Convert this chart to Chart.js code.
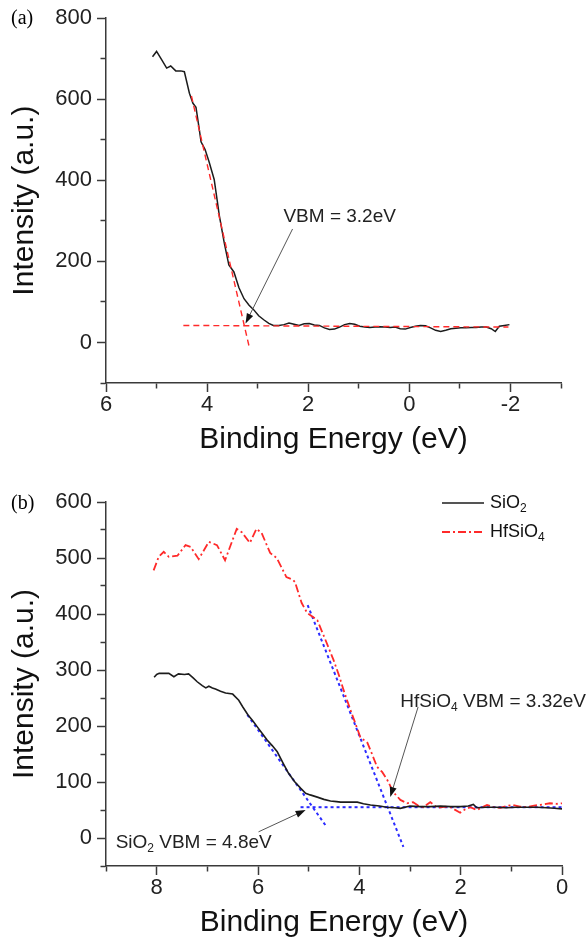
<!DOCTYPE html>
<html><head><meta charset="utf-8">
<script src="https://cdn.jsdelivr.net/npm/chart.js@4.4.1/dist/chart.umd.min.js"></script>
<style>
html,body{margin:0;padding:0;background:#fff;}
#wrap{position:relative;width:587px;height:941px;background:#fff;}
canvas{position:absolute;left:0;}
</style></head><body>
<div id="wrap">
<canvas id="ca" width="587" height="470" style="top:0"></canvas>
<canvas id="cb" width="587" height="471" style="top:470px"></canvas>
</div>
<script>
// ---------- Panel (a) data ----------
const aEnergy = [5.08,5.00,4.90,4.80,4.72,4.62,4.52,4.45,4.35,4.28,4.22,4.16,4.12,4.04,3.96,3.86,3.80,3.76,3.66,3.57,3.47,3.37,3.27,3.17,3.08,2.98,2.88,2.78,2.69,2.58,2.48,2.38,2.28,2.18,2.08,1.98,1.88,1.78,1.68,1.58,1.48,1.38,1.28,1.18,1.08,0.98,0.88,0.78,0.68,0.58,0.48,0.38,0.28,0.18,0.08,-0.02,-0.12,-0.22,-0.32,-0.42,-0.52,-0.62,-0.72,-0.82,-0.92,-1.02,-1.12,-1.22,-1.32,-1.42,-1.52,-1.62,-1.70,-1.78,-1.88,-1.98];
const aIntensity = [705,718,698,677,682,670,670,668,615,590,580,530,495,476,445,402,350,314,245,191,174,135,108,92,81,66,56,47,42,42,44,48,45,42,46,47,43,42,36,32,33,38,44,47,45,40,38,37,38,39,38,37,38,34,33,37,40,42,41,36,30,27,30,34,35,36,36,37,37,38,38,34,27,40,42,44];
const aFitSteepE = [4.31, 3.16];
const aFitSteepI = [608, -15];
const aFitBaseE = [4.47, -1.96];
const aFitBaseI = [42, 38];
const aXTickLabels = [6, 4, 2, 0, -2];
const aYTickLabels = [0, 200, 400, 600, 800];
const aAnnotText = 'VBM = 3.2eV';
const aAnnotAt = [2.49, 309];
const aArrowFrom = [2.31, 280];
const aArrowTo = [3.24, 47];

// ---------- Panel (b) data ----------
const bSiO2E = [8.05,8.00,7.95,7.86,7.76,7.66,7.57,7.45,7.37,7.28,7.20,7.10,7.03,6.97,6.90,6.84,6.74,6.64,6.50,6.38,6.30,6.20,6.10,6.01,5.92,5.82,5.72,5.62,5.50,5.40,5.28,5.16,5.06,4.97,4.83,4.70,4.57,4.45,4.37,4.18,4.04,3.92,3.78,3.60,3.46,3.30,3.19,3.00,2.80,2.60,2.40,2.20,2.00,1.85,1.75,1.68,1.50,1.30,1.10,0.90,0.70,0.50,0.30,0.15,0.00];
const bSiO2I = [287,292,294,294,294,288,293,292,293,286,279,272,268,271,268,266,262,259,257,246,234,220,209,198,187,175,165,154,133,116,101,89,80,77,73,69,66,65,64,64,64,61,59,57,55,54,53,57,56,56,57,56,56,57,60,54,55,55,54,55,55,55,54,53,52];
const bHfE = [8.06,7.96,7.86,7.76,7.59,7.43,7.33,7.17,6.97,6.81,6.65,6.42,6.32,6.16,6.03,5.93,5.76,5.63,5.44,5.31,5.27,5.14,5.03,4.83,4.67,4.51,4.40,4.31,4.20,4.10,3.98,3.84,3.75,3.65,3.55,3.45,3.33,3.19,3.06,2.94,2.84,2.74,2.60,2.46,2.30,2.20,2.01,1.90,1.81,1.68,1.48,1.35,1.22,1.10,0.97,0.83,0.69,0.55,0.43,0.24,0.10,0.00];
const bHfI = [478,502,511,502,504,523,520,498,529,523,496,552,546,527,552,545,509,500,466,461,457,420,402,389,354,318,290,264,235,210,180,170,150,127,118,104,82,68,62,64,58,55,64,54,56,55,45,52,55,50,59,55,54,57,59,56,55,58,59,62,61,62];
const bSiO2FitE = [6.21, 4.67];
const bSiO2FitI = [220, 23];
const bBaseFitE = [5.16, 0.0];
const bBaseFitI = [55, 55];
const bHfFitE = [5.02, 3.13];
const bHfFitI = [416, -16];
const bXTickLabels = [8, 6, 4, 2, 0];
const bYTickLabels = [0, 100, 200, 300, 400, 500, 600];
const bSeriesNames = [[['SiO',0],['2',1]], [['HfSiO',0],['4',1]]];
const bHfAnnot = [['HfSiO',0],['4',1],[' VBM = 3.32eV',0]];
const bHfAnnotAt = [3.19, 243];
const bHfArrowFrom = [2.84, 234];
const bHfArrowTo = [3.39, 73];
const bSiAnnot = [['SiO',0],['2',1],[' VBM = 4.8eV',0]];
const bSiAnnotAt = [8.81, -9];
const bSiArrowFrom = [5.99, 11];
const bSiArrowTo = [5.06, 50];

// ---------- styling ----------
const FF = '"Liberation Sans", Arial, Helvetica, sans-serif';
const SERIF = '"Liberation Serif", "Times New Roman", serif';
const AX = '#3a3a3a';
const BLACK = '#1c1c1c', RED = '#ff2a2a', BLUE = '#2b2bff';
Chart.defaults.font.family = FF;

const pts = (xs, ys) => xs.slice(0, Math.min(xs.length, ys.length)).map((x, i) => ({x, y: ys[i]}));

function xScale(min, max, labels, height, titlePadBottom) {
  return {
    type: 'linear', reverse: true, min, max,
    afterFit: s => { s.height = height; },
    border: {display: true, color: AX, width: 1.5},
    grid: {drawOnChartArea: false, drawTicks: true, tickLength: 9, tickColor: AX, tickWidth: 1.5,
      tickBorderDash: c => (c.tick && labels.includes(c.tick.value)) ? [] : [5, 100]},
    ticks: {stepSize: 1, autoSkip: false, padding: 0, maxRotation: 0, color: '#222',
      font: {size: 22, family: FF},
      callback: v => labels.includes(v) ? String(v) : ''},
    title: {display: true, text: 'Binding Energy (eV)', color: '#111',
      font: {size: 30, family: FF, lineHeight: 1.2}, padding: {top: 0, bottom: titlePadBottom}}
  };
}
function yScale(min, max, step, labels) {
  return {
    type: 'linear', min, max,
    afterFit: s => { s.width = 106; },
    border: {display: true, color: AX, width: 1.5},
    grid: {drawOnChartArea: false, drawTicks: true, tickLength: 9, tickColor: AX, tickWidth: 1.5,
      tickBorderDash: c => (c.tick && labels.includes(c.tick.value)) ? [] : [5, 100],
      tickBorderDashOffset: c => (c.tick && labels.includes(c.tick.value)) ? 0 : 101.5},
    ticks: {stepSize: step, autoSkip: false, padding: 5, color: '#222',
      font: {size: 22, family: FF},
      callback: v => labels.includes(v) ? String(v) : ''},
    title: {display: true, text: 'Intensity (a.u.)', color: '#111',
      font: {size: 30, family: FF, lineHeight: 1.2}, padding: {top: 7, bottom: 0}}
  };
}

function richText(ctx, parts, x, y, size) {
  let cx = x;
  ctx.textBaseline = 'middle';
  ctx.textAlign = 'left';
  for (const [t, sub] of parts) {
    ctx.font = (sub ? Math.round(size * 0.65) : size) + 'px ' + FF;
    ctx.fillText(t, cx, sub ? y + size * 0.32 : y);
    cx += ctx.measureText(t).width;
  }
}
function arrow(ctx, x1, y1, x2, y2) {
  ctx.save();
  ctx.strokeStyle = '#555'; ctx.lineWidth = 1;
  const ang = Math.atan2(y2 - y1, x2 - x1), L = 10, W = 3.5;
  ctx.beginPath(); ctx.moveTo(x1, y1);
  ctx.lineTo(x2 - (L - 2) * Math.cos(ang), y2 - (L - 2) * Math.sin(ang)); ctx.stroke();
  ctx.fillStyle = '#111'; ctx.beginPath();
  ctx.moveTo(x2, y2);
  ctx.lineTo(x2 - L * Math.cos(ang) + W * Math.sin(ang), y2 - L * Math.sin(ang) - W * Math.cos(ang));
  ctx.lineTo(x2 - L * Math.cos(ang) - W * Math.sin(ang), y2 - L * Math.sin(ang) + W * Math.cos(ang));
  ctx.closePath(); ctx.fill();
  ctx.restore();
}
const px = (ch, p) => [ch.scales.x.getPixelForValue(p[0]), ch.scales.y.getPixelForValue(p[1])];

const line = (label, data, color, width, dash) => ({
  label, data, borderColor: color, backgroundColor: color, borderWidth: width,
  borderDash: dash, pointRadius: 0, tension: 0, fill: false
});

// ---------- Chart (a) ----------
new Chart(document.getElementById('ca'), {
  type: 'line',
  data: {datasets: [
    line('fit-steep', pts(aFitSteepE, aFitSteepI), RED, 1.4, [6, 4]),
    line('fit-base', pts(aFitBaseE, aFitBaseI), RED, 1.4, [6, 4]),
    line('spectrum', pts(aEnergy, aIntensity), BLACK, 1.5, []),
  ]},
  options: {
    responsive: false, animation: false, devicePixelRatio: 1,
    layout: {padding: {left: 0, right: 26, top: 15, bottom: 0}},
    plugins: {legend: {display: false}, tooltip: {enabled: false}},
    scales: {x: xScale(-3, 6, aXTickLabels, 87, 12), y: yScale(-100, 800, 100, aYTickLabels)}
  },
  plugins: [{
    id: 'annotA',
    afterDatasetsDraw(ch) {
      const ctx = ch.ctx;
      ctx.save();
      ctx.fillStyle = '#222';
      const [tx, ty] = px(ch, aAnnotAt);
      richText(ctx, [[aAnnotText, 0]], tx, ty, 19);
      const [x1, y1] = px(ch, aArrowFrom), [x2, y2] = px(ch, aArrowTo);
      arrow(ctx, x1, y1, x2, y2);
      ctx.fillStyle = '#000';
      ctx.font = '20px ' + SERIF; ctx.textBaseline = 'alphabetic'; ctx.textAlign = 'left';
      ctx.fillText('(a)', 11, 24);
      ctx.restore();
    }
  }]
});

// ---------- Chart (b) ----------
new Chart(document.getElementById('cb'), {
  type: 'line',
  data: {datasets: [
    line('SiO₂', pts(bSiO2E, bSiO2I), BLACK, 1.6, []),
    line('HfSiO₄', pts(bHfE, bHfI), RED, 1.8, [8, 3, 2, 3]),
    line('fit-SiO2', pts(bSiO2FitE, bSiO2FitI), BLUE, 2, [3, 3]),
    line('fit-base', pts(bBaseFitE, bBaseFitI), BLUE, 2, [3, 3]),
    line('fit-HfSiO4', pts(bHfFitE, bHfFitI), BLUE, 2, [3, 3]),
  ]},
  options: {
    responsive: false, animation: false, devicePixelRatio: 1,
    layout: {padding: {left: 0, right: 25, top: 32, bottom: 0}},
    plugins: {legend: {display: false}, tooltip: {enabled: false}},
    scales: {x: xScale(0, 9, bXTickLabels, 75, 0), y: yScale(-50, 600, 50, bYTickLabels)}
  },
  plugins: [{
    id: 'annotB',
    afterDatasetsDraw(ch) {
      const ctx = ch.ctx;
      ctx.save();
      // legend
      const ds = ch.data.datasets;
      [0, 1].forEach(i => {
        const y = 33 + i * 29;
        ctx.save();
        ctx.strokeStyle = ds[i].borderColor; ctx.lineWidth = ds[i].borderWidth;
        ctx.setLineDash(ds[i].borderDash);
        ctx.beginPath(); ctx.moveTo(442, y); ctx.lineTo(484, y); ctx.stroke();
        ctx.restore();
        ctx.fillStyle = '#111';
        richText(ctx, bSeriesNames[i], 490, y, 18);
      });
      ctx.fillStyle = '#222';
      let [tx, ty] = px(ch, bHfAnnotAt);
      richText(ctx, bHfAnnot, tx, ty, 19);
      [tx, ty] = px(ch, bSiAnnotAt);
      richText(ctx, bSiAnnot, tx, ty, 19);
      let [x1, y1] = px(ch, bHfArrowFrom), [x2, y2] = px(ch, bHfArrowTo);
      arrow(ctx, x1, y1, x2, y2);
      [x1, y1] = px(ch, bSiArrowFrom); [x2, y2] = px(ch, bSiArrowTo);
      arrow(ctx, x1, y1, x2, y2);
      ctx.fillStyle = '#000';
      ctx.font = '20px ' + SERIF; ctx.textBaseline = 'alphabetic'; ctx.textAlign = 'left';
      ctx.fillText('(b)', 11, 39);
      ctx.restore();
    }
  }]
});
</script>
</body></html>
